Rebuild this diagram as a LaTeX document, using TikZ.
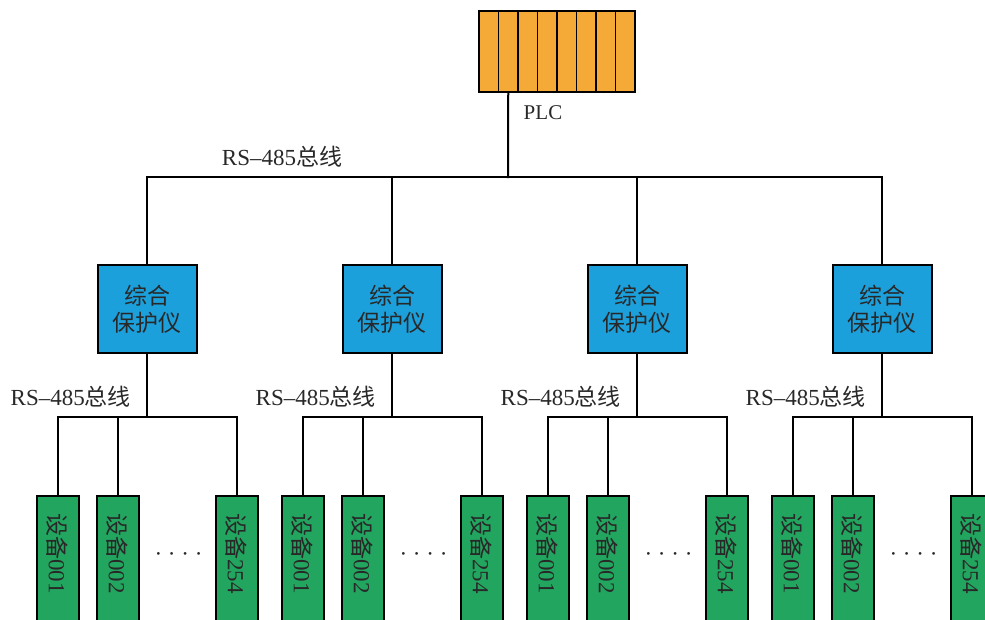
\documentclass[tikz,border=0pt]{standalone}
\usepackage{fontspec}
\setmainfont{Liberation Serif}
\newfontfamily\cjk{Noto Sans CJK SC}
\usetikzlibrary{positioning}

\definecolor{plcorange}{RGB}{245,170,55}
\definecolor{protblue}{RGB}{28,160,220}
\definecolor{devgreen}{RGB}{34,165,95}
\definecolor{textgrey}{RGB}{40,40,40}

\newcommand*{\busy}{177}
\newcommand*{\subbusy}{417}
\newcommand*{\groupdx}{245}

\begin{document}
\begin{tikzpicture}
[
	x=1pt, y=-1pt,
	every node/.style={font=\fontsize{23}{27}\selectfont,text=textgrey},
	wire/.style={line width=2pt,line cap=rect},
	plccell/.style={rectangle,draw,fill=plcorange,line width=1.6pt,minimum width=19.5pt,minimum height=81pt,inner sep=0pt},
	protbox/.style={rectangle,draw,fill=protblue,line width=2pt,minimum width=99pt,minimum height=88pt,align=center,inner sep=0pt},
	devbox/.style={rectangle,draw,fill=devgreen,line width=2pt,minimum width=42pt,minimum height=150pt,inner sep=0pt,anchor=north},
	devtext/.style={rotate=-90,anchor=west,inner sep=0pt},
	buslabel/.style={inner sep=0pt}
]

	\useasboundingbox (0,0) rectangle (985,619);
	\clip (0,0) rectangle (985,619);

	% PLC
	\foreach \i in {0,...,7}
		\node[plccell] (plc\i) at ({488.75+19.5*\i},51.5) {};
	\node[font=\fontsize{21}{25}\selectfont] (plclabel) at (543,113) {PLC};
	\coordinate (top) at (508,\busy);
	\draw[wire] (plc1.south) -- (top);
	\node[buslabel] (mainbus) at (282,157) {RS–485{\cjk 总线}};

	% protectors and devices
	\foreach \g in {0,...,3} {
		\node[protbox] (prot\g) at ({147+\groupdx*\g},309) {\cjk 综合\\\cjk 保护仪};
		\coordinate (sub\g) at ({147+\groupdx*\g},\subbusy);
		\node[buslabel,anchor=east] (sublabel\g) at ({131+\groupdx*\g},397) {RS–485{\cjk 总线}};

		\node[devbox] (dev\g-1) at ({57.5+\groupdx*\g},495) {};
		\node[devbox] (dev\g-2) at ({117.5+\groupdx*\g},495) {};
		\node[devbox] (dev\g-3) at ({236.5+\groupdx*\g},495) {};
		\node[devtext] at ([yshift=-18pt]dev\g-1.north) {{\cjk 设备}001};
		\node[devtext] at ([yshift=-18pt]dev\g-2.north) {{\cjk 设备}002};
		\node[devtext] at ([yshift=-18pt]dev\g-3.north) {{\cjk 设备}254};
		\node (dots\g) at ({178.5+\groupdx*\g},557) {· · · ·};

		\draw[wire] (prot\g.north) -- (prot\g.north |- top);
		\draw[wire] (prot\g.south) -- (sub\g);
		\draw[wire] (dev\g-1.north) |- (dev\g-3.north |- sub\g) -- (dev\g-3.north);
		\draw[wire] (dev\g-2.north) -- (dev\g-2.north |- sub\g);
	}

	% main bus
	\draw[wire] (prot0.north |- top) -- (prot3.north |- top);

\end{tikzpicture}
\end{document}
